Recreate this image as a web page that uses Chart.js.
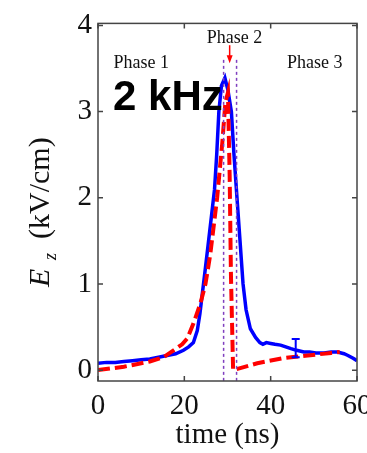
<!DOCTYPE html>
<html>
<head>
<meta charset="utf-8">
<script src="https://cdn.jsdelivr.net/npm/chart.js@4/dist/chart.umd.min.js"></script>
<style>
  html, body { margin: 0; padding: 0; background: #fff; overflow: hidden; }
  #wrap { width: 400px; height: 453px; }
</style>
</head>
<body>
<div id="wrap"><canvas id="chart" width="400" height="453"></canvas></div>
<script>
// measured field, blue solid
const blueTime = [0, 2, 4, 6, 8, 10, 12, 14, 16, 18, 19.8, 21, 22.1, 23, 23.6, 24.2, 24.8, 25.5, 26.2, 27, 27.5, 28, 28.6, 29.4, 30.1, 30.9, 31.5, 32.2, 32.9, 33.6, 34.3, 35.3, 36.5, 37.5, 38.2, 39, 40, 41, 42.3, 43.5, 44.7, 46, 47.7, 49, 50.5, 52.4, 54, 55.5, 57, 57.9, 59, 60];
const blueField = [0.08, 0.09, 0.09, 0.1, 0.11, 0.12, 0.13, 0.15, 0.17, 0.19, 0.23, 0.27, 0.32, 0.46, 0.65, 0.9, 1.15, 1.45, 1.75, 2.1, 2.5, 3.0, 3.3, 3.39, 3.25, 3.0, 2.5, 2.0, 1.5, 1.0, 0.7, 0.48, 0.38, 0.32, 0.3, 0.32, 0.31, 0.3, 0.29, 0.27, 0.25, 0.23, 0.21, 0.21, 0.2, 0.2, 0.21, 0.21, 0.19, 0.17, 0.14, 0.11];

// model, red dashed
const redTime = [0, 3, 6, 8.1, 10, 12, 15.2, 17.5, 19.5, 20.7, 22.1, 23.7, 24.9, 26, 27.6, 28.8, 29.5, 30.1, 30.5, 30.8, 31.3, 36.9, 43, 48.6, 54, 56];
const redField = [0.0, 0.02, 0.04, 0.06, 0.08, 0.1, 0.15, 0.23, 0.3, 0.37, 0.54, 0.77, 1.0, 1.34, 2.0, 2.64, 3.1, 3.22, 2.26, 1.1, 0.0, 0.08, 0.14, 0.17, 0.2, 0.21];

const xTicks = [0, 20, 40, 60];
const yTicks = [0, 1, 2, 3, 4];
const phaseLines = [29.1, 32.1];
const phaseTop = 3.6;
const errTime = [45.8];
const errLow = [0.15];
const errHigh = [0.36];
const phaseLabels = ['Phase 1', 'Phase 2', 'Phase 3'];
const phasePos = [[3.6, 3.5], [31.6, 3.8], [43.8, 3.5]];
const arrowTime = 30.5;
const arrowFrom = 3.77;
const arrowTo = 3.56;

const serif = "'Liberation Serif', 'Times New Roman', serif";
const yMin = -0.126, yMax = 4.023;

const toPts = (xs, ys) => xs.map((t, i) => ({ x: t, y: ys[i] }));

const extras = {
  id: 'extras',
  afterDatasetsDraw(chart) {
    const { ctx, chartArea: { left, right, top, bottom }, scales: { x, y } } = chart;
    ctx.save();

    // error bar
    ctx.strokeStyle = '#0000ff';
    ctx.lineWidth = 2;
    errTime.forEach((t, i) => {
      const px = x.getPixelForValue(t);
      const y1 = y.getPixelForValue(errLow[i]);
      const y2 = y.getPixelForValue(errHigh[i]);
      ctx.beginPath();
      ctx.moveTo(px, y1); ctx.lineTo(px, y2);
      ctx.moveTo(px - 4, y1); ctx.lineTo(px + 4, y1);
      ctx.moveTo(px - 4, y2); ctx.lineTo(px + 4, y2);
      ctx.stroke();
    });

    // red arrow
    const ax = x.getPixelForValue(arrowTime);
    const ay1 = y.getPixelForValue(arrowFrom);
    const ay2 = y.getPixelForValue(arrowTo);
    ctx.strokeStyle = '#ff0000';
    ctx.fillStyle = '#ff0000';
    ctx.lineWidth = 1.5;
    ctx.beginPath();
    ctx.moveTo(ax, ay1); ctx.lineTo(ax, ay2 - 6);
    ctx.stroke();
    ctx.beginPath();
    ctx.moveTo(ax - 3, ay2 - 8); ctx.lineTo(ax + 3, ay2 - 8); ctx.lineTo(ax, ay2);
    ctx.closePath();
    ctx.fill();

    // frame and inward ticks
    ctx.strokeStyle = '#444';
    ctx.lineWidth = 1.5;
    ctx.strokeRect(left, top, right - left, bottom - top);
    ctx.beginPath();
    xTicks.forEach(v => {
      const px = x.getPixelForValue(v);
      ctx.moveTo(px, bottom); ctx.lineTo(px, bottom - 5);
      ctx.moveTo(px, top); ctx.lineTo(px, top + 5);
    });
    yTicks.forEach(v => {
      const py = y.getPixelForValue(v);
      ctx.moveTo(left, py); ctx.lineTo(left + 5, py);
      ctx.moveTo(right, py); ctx.lineTo(right - 5, py);
    });
    ctx.stroke();

    // phase labels
    ctx.fillStyle = '#111';
    ctx.font = '18px ' + serif;
    ctx.textBaseline = 'alphabetic';
    phaseLabels.forEach((txt, i) => {
      ctx.textAlign = i === 1 ? 'center' : 'left';
      ctx.fillText(txt, x.getPixelForValue(phasePos[i][0]), y.getPixelForValue(phasePos[i][1]));
    });

    // frequency label
    ctx.fillStyle = '#000';
    ctx.font = "bold 42px 'Liberation Sans', Arial, sans-serif";
    ctx.textAlign = 'left';
    ctx.fillText('2 kHz', 113, 110);

    // y axis title with subscript
    ctx.translate(49, 287);
    ctx.rotate(-Math.PI / 2);
    ctx.fillStyle = '#111';
    ctx.font = 'italic 30px ' + serif;
    ctx.fillText('E', 0, 0);
    ctx.font = 'italic 18px ' + serif;
    ctx.fillText('z', 27, 7);
    ctx.font = '30px ' + serif;
    ctx.fillText('(kV/cm)', 48, 0);

    ctx.restore();
  }
};

new Chart(document.getElementById('chart'), {
  type: 'line',
  data: {
    datasets: [
      {
        data: toPts([phaseLines[0], phaseLines[0]], [phaseTop, yMin]),
        borderColor: '#7f3fbf', borderWidth: 1.5, borderDash: [3, 3],
        pointRadius: 0, order: 0
      },
      {
        data: toPts([phaseLines[1], phaseLines[1]], [phaseTop, yMin]),
        borderColor: '#7f3fbf', borderWidth: 1.5, borderDash: [3, 3],
        pointRadius: 0, order: 0
      },
      {
        data: toPts(redTime, redField),
        borderColor: '#ff0000', borderWidth: 4, borderDash: [12, 5],
        pointRadius: 0, tension: 0, order: 1
      },
      {
        data: toPts(blueTime, blueField),
        borderColor: '#0000ff', borderWidth: 3.5,
        pointRadius: 0, tension: 0, order: 2
      }
    ]
  },
  options: {
    responsive: false,
    animation: false,
    layout: { padding: { left: 0, top: 20, right: 43, bottom: 0 } },
    plugins: { legend: { display: false }, tooltip: { enabled: false } },
    scales: {
      x: {
        type: 'linear', min: 0, max: 60,
        afterBuildTicks: s => { s.ticks = xTicks.map(v => ({ value: v })); },
        afterFit: s => { s.height = 72; },
        grid: { display: false, drawTicks: false },
        border: { display: false },
        ticks: { color: '#111', padding: 8, maxRotation: 0, font: { family: serif, size: 29 } },
        title: {
          display: true, text: 'time (ns)', color: '#111',
          font: { family: serif, size: 29 }, padding: { top: 0, bottom: 0 }
        }
      },
      y: {
        type: 'linear', min: yMin, max: yMax,
        afterBuildTicks: s => { s.ticks = yTicks.map(v => ({ value: v })); },
        afterFit: s => { s.width = 98; },
        grid: { display: false, drawTicks: false },
        border: { display: false },
        ticks: { color: '#111', padding: 6, font: { family: serif, size: 29 } }
      }
    }
  },
  plugins: [extras]
});
</script>
</body>
</html>
